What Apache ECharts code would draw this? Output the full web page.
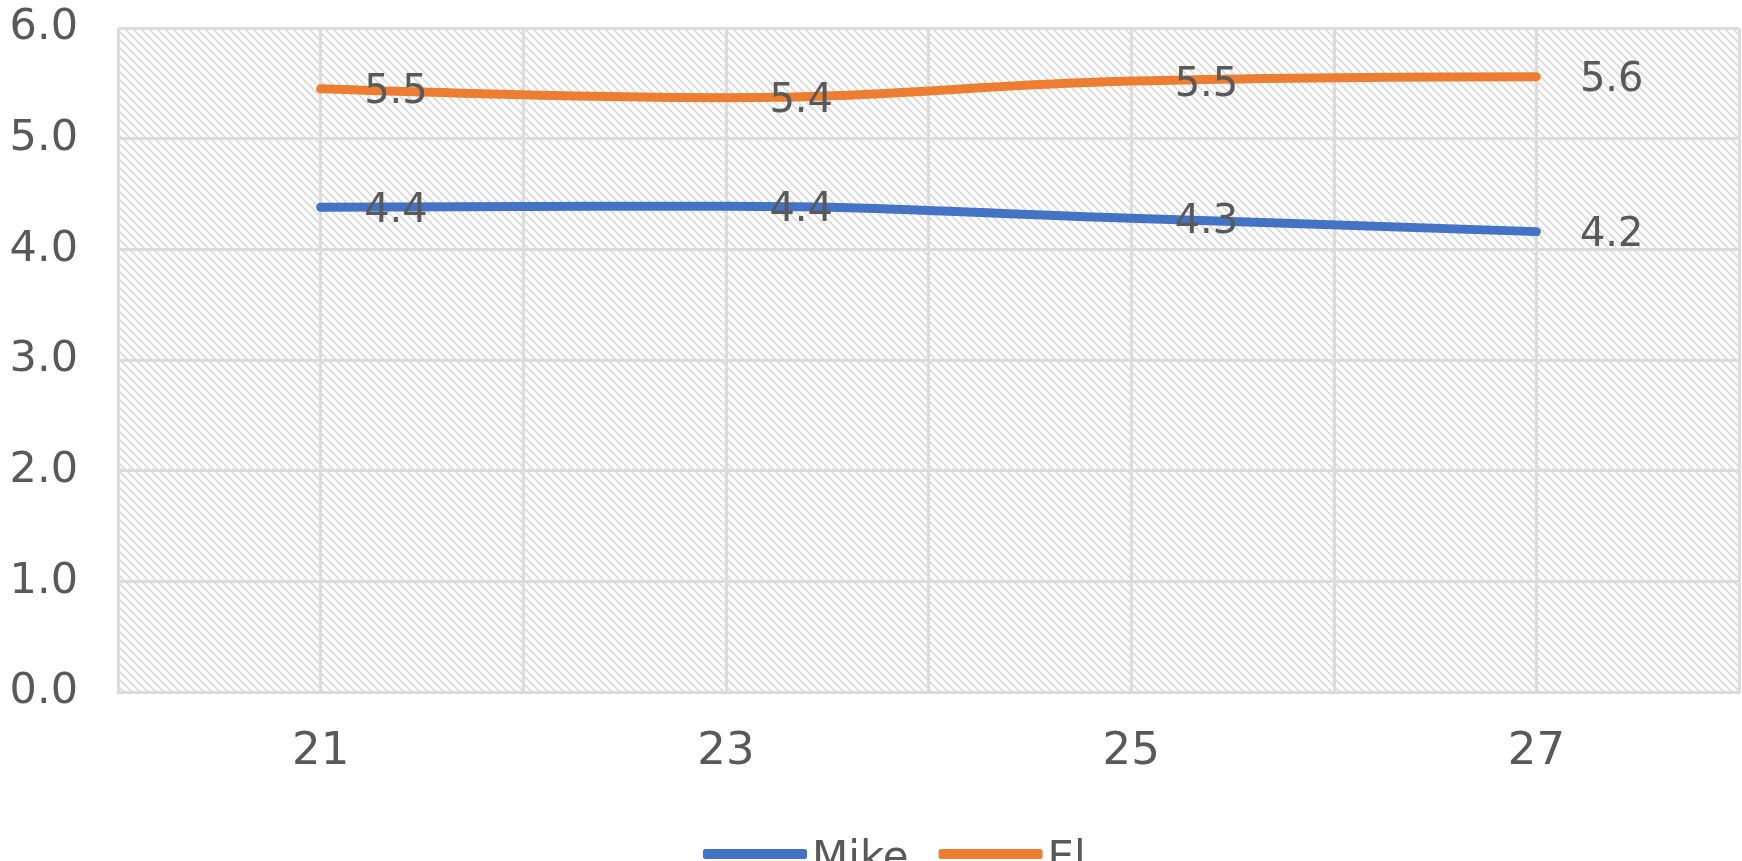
<!DOCTYPE html>
<html><head><meta charset="utf-8">
<script src="https://cdn.jsdelivr.net/npm/echarts@6/dist/echarts.min.js"></script>
<style>html,body{margin:0;padding:0;background:#fff}#c{width:1742px;height:861px}</style>
</head><body><div id="c"></div>
<script>
const xValues = [21, 23, 25, 27];
const mikeValues = [4.38, 4.39, 4.28, 4.16];
const elValues = [5.45, 5.37, 5.52, 5.56];
const seriesNames = ['Mike', 'El'];
const yTicks = [0, 1, 2, 3, 4, 5, 6];
const xLabelTicks = [21, 23, 25, 27];

const pat = document.createElement('canvas');
pat.width = 8; pat.height = 8;
const g = pat.getContext('2d');
g.fillStyle = '#ffffff'; g.fillRect(0, 0, 8, 8);
g.strokeStyle = '#d8d8d8'; g.lineWidth = 1.6;
g.beginPath(); g.moveTo(-2, -2); g.lineTo(10, 10); g.stroke();
g.beginPath(); g.moveTo(-6, 2); g.lineTo(2, 10); g.stroke();
g.beginPath(); g.moveTo(2, -6); g.lineTo(10, 2); g.stroke();

const FONT = 'DejaVu Sans';
const chart = echarts.init(document.getElementById('c'));
const pair = (xs, ys) => xs.map((x, i) => [x, ys[i]]);
const labelCfg = {
  show: true, position: 'right', distance: 43, offset: [0, 4],
  color: '#595959', fontSize: 40, fontFamily: FONT,
  formatter: p => p.value[1].toFixed(1)
};
chart.setOption({
  animation: false,
  backgroundColor: '#ffffff',
  grid: { left: 118, top: 28, right: -5, bottom: 169, show: true,
    backgroundColor: { image: pat, repeat: 'repeat' }, borderWidth: 0 },
  legend: {
    data: seriesNames, top: 822, left: 698, itemWidth: 104, itemHeight: 10,
    itemGap: 30, icon: 'roundRect',
    formatter: name => '{t|' + name + '}',
    textStyle: { color: '#595959', fontSize: 42, fontFamily: FONT,
      rich: { t: { color: '#595959', fontSize: 42, lineHeight: 42, fontFamily: FONT, padding: [12, 0, 0, 0] } } }
  },
  xAxis: {
    type: 'value', min: 20, max: 28, interval: 1,
    axisLine: { show: true, lineStyle: { color: '#d9d9d9', width: 3 } },
    axisTick: { show: false },
    splitLine: { show: true, lineStyle: { color: '#dcdcdc', width: 3 } },
    axisLabel: { color: '#595959', fontSize: 45, fontFamily: FONT, margin: 38,
      formatter: v => xLabelTicks.includes(v) ? String(v) : '' }
  },
  yAxis: {
    type: 'value', min: 0, max: 6, interval: 1,
    axisLine: { show: false }, axisTick: { show: false },
    splitLine: { show: true, lineStyle: { color: '#dcdcdc', width: 3 } },
    axisLabel: { color: '#595959', fontSize: 43, fontFamily: FONT, margin: 40,
      formatter: v => yTicks.includes(v) ? v.toFixed(1) : '' }
  },
  series: [
    { name: seriesNames[0], type: 'line', data: pair(xValues, mikeValues), smooth: 0.4,
      symbol: 'circle', symbolSize: 1, showSymbol: true,
      itemStyle: { color: '#4472C4' }, lineStyle: { color: '#4472C4', width: 9, cap: 'round' },
      label: labelCfg },
    { name: seriesNames[1], type: 'line', data: pair(xValues, elValues), smooth: 0.4,
      symbol: 'circle', symbolSize: 1, showSymbol: true,
      itemStyle: { color: '#ED7D31' }, lineStyle: { color: '#ED7D31', width: 9, cap: 'round' },
      label: labelCfg }
  ]
});
</script></body></html>
